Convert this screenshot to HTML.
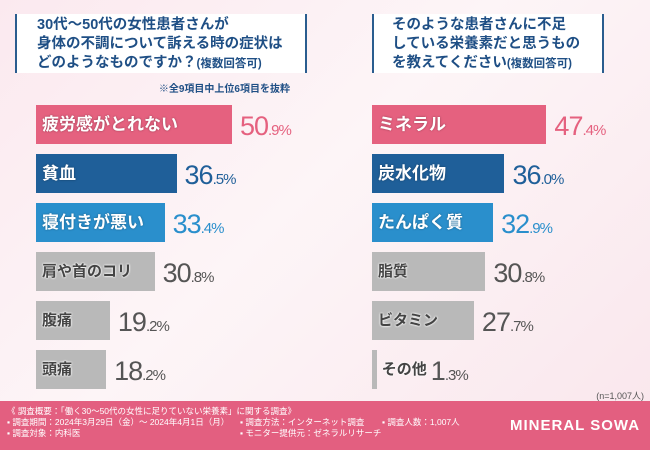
<!DOCTYPE html>
<html><head><meta charset="utf-8">
<style>
body{margin:0;width:650px;height:450px;overflow:hidden;font-family:"Liberation Sans","Noto Sans CJK JP",sans-serif;}
#root{position:relative;width:650px;height:450px;background:linear-gradient(135deg,#fbe9ef 0%,#fdf5f7 45%,#f9e6ec 100%);}
.tbox{position:absolute;top:14px;height:59px;background:#fff;border-left:2px solid #2a5d8f;border-right:2px solid #2a5d8f;color:#1f4f85;font-size:14.5px;line-height:19px;font-weight:bold;box-sizing:border-box;padding-top:2px}
.tbox small{font-size:11.5px}
.bar{position:absolute;height:39px;}
.lbl{position:absolute;height:39px;line-height:39px;font-size:17px;font-weight:bold;white-space:nowrap}
.val{position:absolute;height:39px;line-height:42px;white-space:nowrap;font-family:"Liberation Sans Narrow","Liberation Sans",sans-serif;letter-spacing:-1px}
.val b{font-size:27px;font-weight:normal}.val i{font-style:normal;font-size:15px}
.footer{position:absolute;left:0;top:401px;width:650px;height:49px;background:#e35f80;color:#fff;font-size:8.5px;line-height:11px}
</style></head><body>
<div id="root">
<div class="tbox" style="left:15px;width:292px;padding-left:20px">30代～50代の女性患者さんが<br>身体の不調について訴える時の症状は<br>どのようなものですか？<small>(複数回答可)</small></div>
<div class="tbox" style="left:372px;width:232px;padding-left:18px">そのような患者さんに不足<br>している栄養素だと思うもの<br>を教えてください<small>(複数回答可)</small></div>
<div style="position:absolute;left:150px;top:80px;width:140px;text-align:right;font-size:10px;color:#1f4f85;font-weight:bold">※全9項目中上位6項目を抜粋</div>
<div style="position:absolute;right:6px;top:389px;font-size:9px;color:#555">(n=1,007人)</div>
<div id="bars"></div>
<div class="footer">
<div style="position:absolute;left:7px;top:5px">《 調査概要：「働く30～50代の女性に足りていない栄養素」に関する調査》</div>
<div style="position:absolute;left:7px;top:16px">▪ 調査期間：2024年3月29日（金）～ 2024年4月1日（月）</div>
<div style="position:absolute;left:7px;top:27px">▪ 調査対象：内科医</div>
<div style="position:absolute;left:240px;top:16px">▪ 調査方法：インターネット調査</div>
<div style="position:absolute;left:240px;top:27px">▪ モニター提供元：ゼネラルリサーチ</div>
<div style="position:absolute;left:382px;top:16px">▪ 調査人数：1,007人</div>
<div style="position:absolute;left:510px;top:15px;font-size:15px;font-weight:bold;letter-spacing:1px;line-height:20px">MINERAL SOWA</div>
</div>
</div>
<script>
const leftCats=["疲労感がとれない","貧血","寝付きが悪い","肩や首のコリ","腹痛","頭痛"];
const leftVals=[50.9,36.5,33.4,30.8,19.2,18.2];
const rightCats=["ミネラル","炭水化物","たんぱく質","脂質","ビタミン","その他"];
const rightVals=[47.4,36.0,32.9,30.8,27.7,1.3];
const colors=["#e5617f","#1f5f99","#2a8fcc","#b9b9b9","#b9b9b9","#b9b9b9"];
const valColors=["#e5617f","#1f5f99","#2a8fcc","#555","#555","#555"];
const host=document.getElementById('bars');
function yPos(i){return 105+i*49;}
function draw(cats,vals,x0,scale){
 cats.forEach((c,i)=>{
  const w=vals[i]*scale, y=yPos(i);
  const bar=document.createElement('div');bar.className='bar';
  
  
  bar.style.cssText=`left:${x0}px;top:${y}px;width:${w}px;background:${colors[i]}`;
  host.appendChild(bar);
  const l=document.createElement('div');l.className='lbl';
  
  
  const gray=i>=3;
  const inside=w>60;
  const lx=inside?x0+6:x0+w+5;
  l.style.cssText=`left:${lx}px;top:${y}px;color:${gray?'#444':'#fff'};font-size:${gray?15:17}px;text-shadow:${gray?'0 0 2px #fff,0 0 2px #fff':'0 0 2px rgba(0,0,0,.35)'}`;
  l.textContent=c;host.appendChild(l);
  const v=document.createElement('div');v.className='val';
  
  
  const s=vals[i].toFixed(1).split('.');
  const vx=inside?x0+w+8:lx+l.offsetWidth+4;
  v.style.cssText=`left:${vx}px;top:${y}px;color:${valColors[i]}`;
  v.innerHTML=`<b>${s[0]}</b><i>.${s[1]}%</i>`;
  host.appendChild(v);
 });
}
draw(leftCats,leftVals,36,3.85);
draw(rightCats,rightVals,372,3.68);
</script>
</body></html>
